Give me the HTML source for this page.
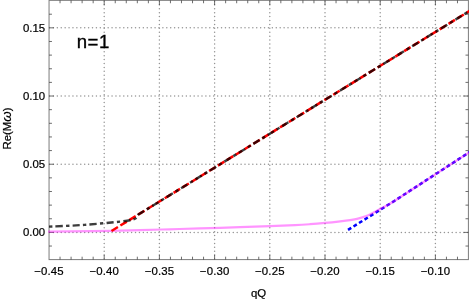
<!DOCTYPE html>
<html lang="en"><head><meta charset="utf-8"><title>plot</title>
<style>
html,body{margin:0;padding:0;background:#fff;}
body{width:469px;height:301px;overflow:hidden;}
svg{display:block;will-change:transform;}
text{font-family:"Liberation Sans",sans-serif;fill:#000;}
</style></head><body>
<svg width="469" height="301" viewBox="0 0 469 301">
<rect x="0" y="0" width="469" height="301" fill="#fff"/>

<g stroke="#959595" stroke-width="1.5" stroke-linecap="round" stroke-dasharray="0 3.910" fill="none">
<line x1="104.20" y1="259.02" x2="104.20" y2="0.35"/>
<line x1="159.40" y1="259.02" x2="159.40" y2="0.35"/>
<line x1="214.60" y1="259.02" x2="214.60" y2="0.35"/>
<line x1="269.80" y1="259.02" x2="269.80" y2="0.35"/>
<line x1="325.00" y1="259.02" x2="325.00" y2="0.35"/>
<line x1="380.20" y1="259.02" x2="380.20" y2="0.35"/>
<line x1="435.40" y1="259.02" x2="435.40" y2="0.35"/>
<line x1="49.50" y1="232.40" x2="468.40" y2="232.40"/>
<line x1="49.50" y1="164.22" x2="468.40" y2="164.22"/>
<line x1="49.50" y1="96.03" x2="468.40" y2="96.03"/>
<line x1="49.50" y1="27.84" x2="468.40" y2="27.84"/>
</g>
<rect x="49.05" y="0.35" width="419.35" height="259.25" stroke="#7c7c7c" stroke-width="1" fill="none"/>
<g stroke="#3c3c3c" stroke-width="0.75" fill="none">
<line x1="60.04" y1="259.60" x2="60.04" y2="256.70"/>
<line x1="60.04" y1="0.35" x2="60.04" y2="3.25"/>
<line x1="71.08" y1="259.60" x2="71.08" y2="256.70"/>
<line x1="71.08" y1="0.35" x2="71.08" y2="3.25"/>
<line x1="82.12" y1="259.60" x2="82.12" y2="256.70"/>
<line x1="82.12" y1="0.35" x2="82.12" y2="3.25"/>
<line x1="93.16" y1="259.60" x2="93.16" y2="256.70"/>
<line x1="93.16" y1="0.35" x2="93.16" y2="3.25"/>
<line x1="104.20" y1="259.60" x2="104.20" y2="254.80"/>
<line x1="104.20" y1="0.35" x2="104.20" y2="5.15"/>
<line x1="115.24" y1="259.60" x2="115.24" y2="256.70"/>
<line x1="115.24" y1="0.35" x2="115.24" y2="3.25"/>
<line x1="126.28" y1="259.60" x2="126.28" y2="256.70"/>
<line x1="126.28" y1="0.35" x2="126.28" y2="3.25"/>
<line x1="137.32" y1="259.60" x2="137.32" y2="256.70"/>
<line x1="137.32" y1="0.35" x2="137.32" y2="3.25"/>
<line x1="148.36" y1="259.60" x2="148.36" y2="256.70"/>
<line x1="148.36" y1="0.35" x2="148.36" y2="3.25"/>
<line x1="159.40" y1="259.60" x2="159.40" y2="254.80"/>
<line x1="159.40" y1="0.35" x2="159.40" y2="5.15"/>
<line x1="170.44" y1="259.60" x2="170.44" y2="256.70"/>
<line x1="170.44" y1="0.35" x2="170.44" y2="3.25"/>
<line x1="181.48" y1="259.60" x2="181.48" y2="256.70"/>
<line x1="181.48" y1="0.35" x2="181.48" y2="3.25"/>
<line x1="192.52" y1="259.60" x2="192.52" y2="256.70"/>
<line x1="192.52" y1="0.35" x2="192.52" y2="3.25"/>
<line x1="203.56" y1="259.60" x2="203.56" y2="256.70"/>
<line x1="203.56" y1="0.35" x2="203.56" y2="3.25"/>
<line x1="214.60" y1="259.60" x2="214.60" y2="254.80"/>
<line x1="214.60" y1="0.35" x2="214.60" y2="5.15"/>
<line x1="225.64" y1="259.60" x2="225.64" y2="256.70"/>
<line x1="225.64" y1="0.35" x2="225.64" y2="3.25"/>
<line x1="236.68" y1="259.60" x2="236.68" y2="256.70"/>
<line x1="236.68" y1="0.35" x2="236.68" y2="3.25"/>
<line x1="247.72" y1="259.60" x2="247.72" y2="256.70"/>
<line x1="247.72" y1="0.35" x2="247.72" y2="3.25"/>
<line x1="258.76" y1="259.60" x2="258.76" y2="256.70"/>
<line x1="258.76" y1="0.35" x2="258.76" y2="3.25"/>
<line x1="269.80" y1="259.60" x2="269.80" y2="254.80"/>
<line x1="269.80" y1="0.35" x2="269.80" y2="5.15"/>
<line x1="280.84" y1="259.60" x2="280.84" y2="256.70"/>
<line x1="280.84" y1="0.35" x2="280.84" y2="3.25"/>
<line x1="291.88" y1="259.60" x2="291.88" y2="256.70"/>
<line x1="291.88" y1="0.35" x2="291.88" y2="3.25"/>
<line x1="302.92" y1="259.60" x2="302.92" y2="256.70"/>
<line x1="302.92" y1="0.35" x2="302.92" y2="3.25"/>
<line x1="313.96" y1="259.60" x2="313.96" y2="256.70"/>
<line x1="313.96" y1="0.35" x2="313.96" y2="3.25"/>
<line x1="325.00" y1="259.60" x2="325.00" y2="254.80"/>
<line x1="325.00" y1="0.35" x2="325.00" y2="5.15"/>
<line x1="336.04" y1="259.60" x2="336.04" y2="256.70"/>
<line x1="336.04" y1="0.35" x2="336.04" y2="3.25"/>
<line x1="347.08" y1="259.60" x2="347.08" y2="256.70"/>
<line x1="347.08" y1="0.35" x2="347.08" y2="3.25"/>
<line x1="358.12" y1="259.60" x2="358.12" y2="256.70"/>
<line x1="358.12" y1="0.35" x2="358.12" y2="3.25"/>
<line x1="369.16" y1="259.60" x2="369.16" y2="256.70"/>
<line x1="369.16" y1="0.35" x2="369.16" y2="3.25"/>
<line x1="380.20" y1="259.60" x2="380.20" y2="254.80"/>
<line x1="380.20" y1="0.35" x2="380.20" y2="5.15"/>
<line x1="391.24" y1="259.60" x2="391.24" y2="256.70"/>
<line x1="391.24" y1="0.35" x2="391.24" y2="3.25"/>
<line x1="402.28" y1="259.60" x2="402.28" y2="256.70"/>
<line x1="402.28" y1="0.35" x2="402.28" y2="3.25"/>
<line x1="413.32" y1="259.60" x2="413.32" y2="256.70"/>
<line x1="413.32" y1="0.35" x2="413.32" y2="3.25"/>
<line x1="424.36" y1="259.60" x2="424.36" y2="256.70"/>
<line x1="424.36" y1="0.35" x2="424.36" y2="3.25"/>
<line x1="435.40" y1="259.60" x2="435.40" y2="254.80"/>
<line x1="435.40" y1="0.35" x2="435.40" y2="5.15"/>
<line x1="446.44" y1="259.60" x2="446.44" y2="256.70"/>
<line x1="446.44" y1="0.35" x2="446.44" y2="3.25"/>
<line x1="457.48" y1="259.60" x2="457.48" y2="256.70"/>
<line x1="457.48" y1="0.35" x2="457.48" y2="3.25"/>
<line x1="49.05" y1="246.04" x2="51.95" y2="246.04"/>
<line x1="468.40" y1="246.04" x2="465.50" y2="246.04"/>
<line x1="49.05" y1="232.40" x2="53.85" y2="232.40"/>
<line x1="468.40" y1="232.40" x2="463.60" y2="232.40"/>
<line x1="49.05" y1="218.76" x2="51.95" y2="218.76"/>
<line x1="468.40" y1="218.76" x2="465.50" y2="218.76"/>
<line x1="49.05" y1="205.13" x2="51.95" y2="205.13"/>
<line x1="468.40" y1="205.13" x2="465.50" y2="205.13"/>
<line x1="49.05" y1="191.49" x2="51.95" y2="191.49"/>
<line x1="468.40" y1="191.49" x2="465.50" y2="191.49"/>
<line x1="49.05" y1="177.85" x2="51.95" y2="177.85"/>
<line x1="468.40" y1="177.85" x2="465.50" y2="177.85"/>
<line x1="49.05" y1="164.22" x2="53.85" y2="164.22"/>
<line x1="468.40" y1="164.22" x2="463.60" y2="164.22"/>
<line x1="49.05" y1="150.58" x2="51.95" y2="150.58"/>
<line x1="468.40" y1="150.58" x2="465.50" y2="150.58"/>
<line x1="49.05" y1="136.94" x2="51.95" y2="136.94"/>
<line x1="468.40" y1="136.94" x2="465.50" y2="136.94"/>
<line x1="49.05" y1="123.30" x2="51.95" y2="123.30"/>
<line x1="468.40" y1="123.30" x2="465.50" y2="123.30"/>
<line x1="49.05" y1="109.67" x2="51.95" y2="109.67"/>
<line x1="468.40" y1="109.67" x2="465.50" y2="109.67"/>
<line x1="49.05" y1="96.03" x2="53.85" y2="96.03"/>
<line x1="468.40" y1="96.03" x2="463.60" y2="96.03"/>
<line x1="49.05" y1="82.39" x2="51.95" y2="82.39"/>
<line x1="468.40" y1="82.39" x2="465.50" y2="82.39"/>
<line x1="49.05" y1="68.76" x2="51.95" y2="68.76"/>
<line x1="468.40" y1="68.76" x2="465.50" y2="68.76"/>
<line x1="49.05" y1="55.12" x2="51.95" y2="55.12"/>
<line x1="468.40" y1="55.12" x2="465.50" y2="55.12"/>
<line x1="49.05" y1="41.48" x2="51.95" y2="41.48"/>
<line x1="468.40" y1="41.48" x2="465.50" y2="41.48"/>
<line x1="49.05" y1="27.84" x2="53.85" y2="27.84"/>
<line x1="468.40" y1="27.84" x2="463.60" y2="27.84"/>
<line x1="49.05" y1="14.21" x2="51.95" y2="14.21"/>
<line x1="468.40" y1="14.21" x2="465.50" y2="14.21"/>
</g>
<clipPath id="c"><rect x="48.10" y="-0.65" width="421.25" height="260.85"/></clipPath>
<g clip-path="url(#c)" fill="none">
<path d="M348.0 229.9 L393.95 201.2 L468.5 152.8 L480 145.4" stroke="#0000ff" stroke-width="2.5" stroke-dasharray="3.85 2.65"/>
<path d="M48.00 231.62 C51.67 231.58 59.67 231.54 70.00 231.40 C80.33 231.26 98.33 231.01 110.00 230.80 C121.67 230.59 130.00 230.40 140.00 230.15 C150.00 229.90 160.00 229.59 170.00 229.30 C180.00 229.01 188.33 228.75 200.00 228.40 C211.67 228.05 228.33 227.57 240.00 227.20 C251.67 226.83 260.83 226.54 270.00 226.20 C279.17 225.86 288.33 225.48 295.00 225.15 C301.67 224.82 305.00 224.57 310.00 224.20 C315.00 223.82 319.97 223.38 325.00 222.90 C330.03 222.42 336.03 221.77 340.20 221.30 C344.37 220.83 347.20 220.50 350.00 220.10 C352.80 219.70 354.28 219.58 357.00 218.90 C359.72 218.22 363.85 216.90 366.30 216.00 C368.75 215.10 369.38 214.67 371.70 213.50 C374.02 212.33 376.48 211.05 380.20 209.00 C383.92 206.95 385.70 206.40 394.00 201.20 C402.30 196.00 417.58 185.86 430.00 177.80 C442.42 169.73 460.17 158.20 468.50 152.80 C476.83 147.40 478.08 146.63 480.00 145.40" stroke="#ff00ff" stroke-opacity="0.42" stroke-width="2.2"/>
<path d="M111.5 231 L468.5 11.6 L480 4.5" stroke="#ff0000" stroke-width="2.5" stroke-dasharray="7.55 2.86"/>
<path d="M48.00 226.65 C52.67 226.44 66.83 225.96 76.00 225.40 C85.17 224.84 95.67 223.93 103.00 223.30 C110.33 222.67 115.50 222.10 120.00 221.60 C124.50 221.10 127.75 220.68 130.00 220.30 C132.25 219.92 132.57 219.62 133.50 219.30 C134.43 218.98 135.02 218.85 135.60 218.40 C136.18 217.95 136.55 217.25 137.00 216.60 C137.45 215.95 137.63 215.15 138.30 214.53 C138.97 213.91 140.55 213.15 141.00 212.87 L468.5 11.6 L480 4.5" stroke="#000" stroke-opacity="0.76" stroke-width="2.4" stroke-dasharray="7.3 3.2 3.35 3.1" stroke-dashoffset="9.4"/>
</g>
<g font-size="11.4" letter-spacing="0" stroke="#000" stroke-width="0.22">
<text x="49.05" y="275.2" text-anchor="middle" letter-spacing="0.15">−0.45</text>
<text x="104.25" y="275.2" text-anchor="middle" letter-spacing="0.15">−0.40</text>
<text x="159.45" y="275.2" text-anchor="middle" letter-spacing="0.15">−0.35</text>
<text x="214.65" y="275.2" text-anchor="middle" letter-spacing="0.15">−0.30</text>
<text x="269.85" y="275.2" text-anchor="middle" letter-spacing="0.15">−0.25</text>
<text x="325.05" y="275.2" text-anchor="middle" letter-spacing="0.15">−0.20</text>
<text x="380.25" y="275.2" text-anchor="middle" letter-spacing="0.15">−0.15</text>
<text x="435.45" y="275.2" text-anchor="middle" letter-spacing="0.15">−0.10</text>
<text x="45.1" y="236.40" text-anchor="end">0.00</text>
<text x="45.1" y="168.22" text-anchor="end">0.05</text>
<text x="45.1" y="100.03" text-anchor="end">0.10</text>
<text x="45.1" y="31.84" text-anchor="end">0.15</text>
<text x="258.6" y="297.2" text-anchor="middle">qQ</text>
<text transform="translate(11.4 149.5) rotate(-90)" letter-spacing="0">Re(M<tspan font-style="italic" font-size="13.4">ω</tspan>)</text>
</g>
<text x="76.7" y="47.95" font-size="18.6" letter-spacing="0.5" stroke="#000" stroke-width="0.35">n=1</text>
</svg></body></html>
